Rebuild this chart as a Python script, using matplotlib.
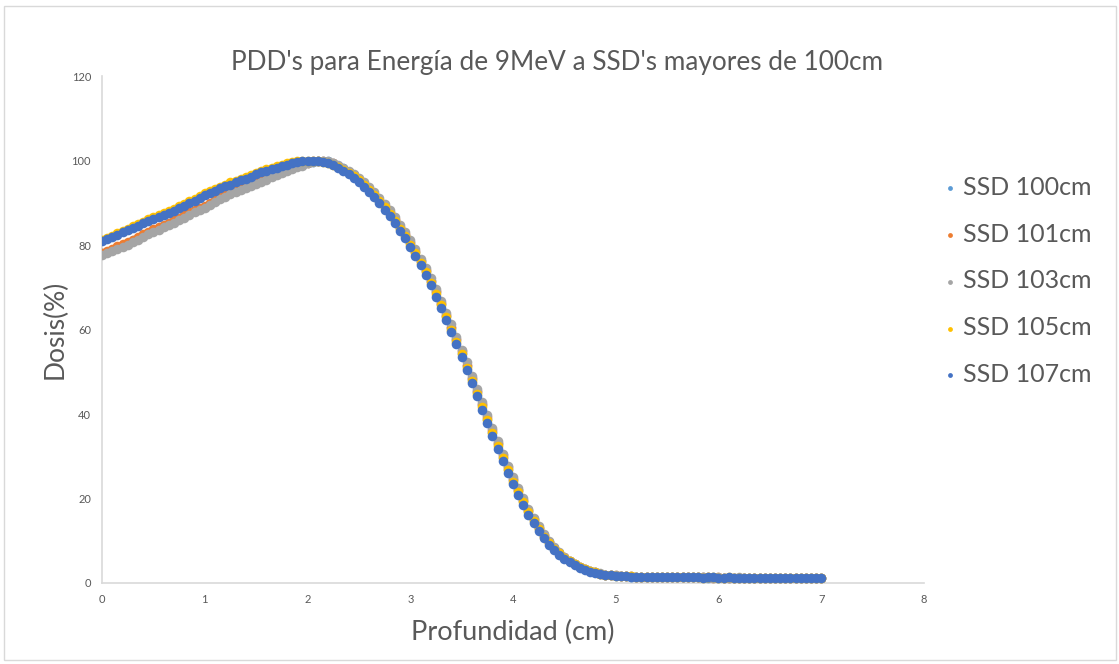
import numpy as np
import matplotlib
matplotlib.use("Agg")
import matplotlib.pyplot as plt
from matplotlib.patches import Rectangle

plt.rcParams['font.family'] = ['Lato', 'DejaVu Sans']

# Depth of each measurement (cm), 0.5 mm scan step
depth = np.round(np.arange(0, 7.0001, 0.05), 2)

ssd100 = [
    78.0, 78.4, 78.9, 79.5, 80.0, 80.5, 81.1, 81.7, 82.3, 82.9,
    83.5, 84.0, 84.6, 85.1, 85.7, 86.3, 86.9, 87.5, 88.1, 88.6,
    89.1, 89.8, 90.5, 91.2, 91.8, 92.4, 92.9, 93.5, 94.0, 94.4,
    94.9, 95.4, 95.9, 96.4, 96.8, 97.3, 97.8, 98.2, 98.6, 98.9,
    99.4, 99.7, 99.9, 100.0, 99.8, 99.4, 98.8, 98.2, 97.4, 96.6,
    95.4, 94.3, 93.1, 91.9, 90.5, 89.1, 87.5, 85.9, 84.1, 82.3,
    80.4, 78.3, 76.1, 73.8, 71.4, 68.8, 66.1, 63.3, 60.4, 57.5,
    54.5, 51.4, 48.3, 45.2, 42.1, 38.9, 35.8, 32.8, 29.9, 27.1,
    24.4, 21.9, 19.5, 17.1, 14.9, 13.0, 11.2, 9.7, 8.3, 7.1,
    6.0, 5.2, 4.4, 3.8, 3.3, 2.8, 2.5, 2.2, 2.0, 1.8,
    1.7, 1.7, 1.6, 1.5, 1.5, 1.5, 1.4, 1.4, 1.4, 1.4,
    1.4, 1.3, 1.3, 1.3, 1.3, 1.3, 1.3, 1.3, 1.2, 1.3,
    1.2, 1.2, 1.2, 1.2, 1.2, 1.2, 1.2, 1.1, 1.2, 1.2,
    1.1, 1.2, 1.1, 1.1, 1.1, 1.2, 1.1, 1.1, 1.1, 1.1,
    1.1,
]

ssd101 = [
    78.2, 78.6, 79.1, 79.7, 80.2, 80.7, 81.3, 81.9, 82.5, 83.1,
    83.7, 84.2, 84.8, 85.3, 85.9, 86.5, 87.1, 87.7, 88.3, 88.8,
    89.3, 90.0, 90.7, 91.4, 92.0, 92.5, 93.0, 93.6, 94.1, 94.5,
    95.0, 95.5, 96.0, 96.5, 96.9, 97.4, 97.9, 98.3, 98.7, 99.0,
    99.5, 99.8, 100.0, 99.9, 99.7, 99.3, 98.7, 98.1, 97.3, 96.5,
    95.5, 94.5, 93.3, 92.1, 90.7, 89.3, 87.7, 86.1, 84.3, 82.5,
    80.6, 78.5, 76.3, 74.0, 71.6, 69.0, 66.3, 63.5, 60.7, 57.8,
    54.8, 51.7, 48.6, 45.5, 42.4, 39.2, 36.1, 33.1, 30.2, 27.4,
    24.6, 22.1, 19.7, 17.3, 15.1, 13.1, 11.3, 9.8, 8.4, 7.2,
    6.1, 5.2, 4.5, 3.8, 3.3, 2.9, 2.5, 2.2, 2.0, 1.9,
    1.8, 1.7, 1.6, 1.6, 1.5, 1.5, 1.5, 1.4, 1.4, 1.4,
    1.4, 1.4, 1.3, 1.3, 1.3, 1.3, 1.3, 1.3, 1.3, 1.2,
    1.3, 1.2, 1.2, 1.2, 1.2, 1.2, 1.2, 1.2, 1.1, 1.2,
    1.2, 1.1, 1.2, 1.1, 1.1, 1.1, 1.1, 1.2, 1.1, 1.1,
    1.1,
]

ssd103 = [
    77.6, 78.0, 78.5, 79.1, 79.6, 80.1, 80.7, 81.3, 81.9, 82.5,
    83.1, 83.6, 84.2, 84.7, 85.3, 85.9, 86.5, 87.1, 87.7, 88.2,
    88.7, 89.4, 90.1, 90.8, 91.4, 92.0, 92.5, 93.1, 93.6, 94.0,
    94.5, 95.0, 95.5, 96.0, 96.5, 97.0, 97.5, 98.0, 98.4, 98.8,
    99.3, 99.6, 99.9, 100.0, 99.8, 99.5, 98.9, 98.3, 97.6, 96.8,
    95.8, 94.8, 93.7, 92.5, 91.2, 89.8, 88.2, 86.6, 84.8, 83.0,
    81.1, 79.0, 76.8, 74.5, 72.1, 69.5, 66.8, 64.0, 61.2, 58.2,
    55.2, 52.2, 49.1, 46.0, 42.9, 39.7, 36.6, 33.6, 30.6, 27.8,
    25.0, 22.5, 20.0, 17.6, 15.4, 13.4, 11.6, 10.0, 8.6, 7.3,
    6.2, 5.3, 4.6, 3.9, 3.4, 2.9, 2.6, 2.3, 2.0, 1.9,
    1.8, 1.7, 1.6, 1.6, 1.5, 1.5, 1.5, 1.4, 1.4, 1.4,
    1.4, 1.4, 1.3, 1.4, 1.3, 1.3, 1.3, 1.3, 1.3, 1.2,
    1.3, 1.2, 1.2, 1.2, 1.3, 1.2, 1.2, 1.2, 1.2, 1.1,
    1.2, 1.2, 1.1, 1.2, 1.1, 1.1, 1.1, 1.2, 1.1, 1.1,
    1.1,
]

ssd105 = [
    81.2, 81.7, 82.2, 82.8, 83.3, 83.9, 84.4, 85.0, 85.5, 86.1,
    86.6, 87.1, 87.6, 88.1, 88.6, 89.2, 89.8, 90.4, 91.0, 91.6,
    92.2, 92.8, 93.3, 93.8, 94.3, 94.8, 95.2, 95.7, 96.2, 96.6,
    97.1, 97.5, 97.9, 98.3, 98.7, 99.0, 99.3, 99.6, 99.8, 99.9,
    100.0, 100.0, 99.9, 99.7, 99.4, 99.0, 98.5, 97.8, 97.1, 96.3,
    95.4, 94.3, 93.1, 91.8, 90.4, 88.9, 87.3, 85.7, 83.9, 82.1,
    80.1, 78.0, 75.8, 73.5, 71.1, 68.4, 65.7, 62.9, 60.0, 57.1,
    54.1, 51.0, 47.9, 44.8, 41.6, 38.5, 35.4, 32.4, 29.5, 26.7,
    24.0, 21.5, 19.1, 16.8, 14.7, 12.8, 11.0, 9.5, 8.1, 7.0,
    5.9, 5.1, 4.4, 3.7, 3.2, 2.8, 2.5, 2.2, 2.0, 1.8,
    1.7, 1.7, 1.6, 1.6, 1.5, 1.5, 1.4, 1.4, 1.4, 1.4,
    1.4, 1.3, 1.3, 1.3, 1.3, 1.3, 1.3, 1.2, 1.3, 1.3,
    1.2, 1.2, 1.3, 1.2, 1.2, 1.2, 1.2, 1.2, 1.1, 1.2,
    1.2, 1.1, 1.2, 1.1, 1.1, 1.1, 1.2, 1.1, 1.1, 1.1,
    1.1,
]

ssd107 = [
    80.9, 81.4, 81.9, 82.4, 83.0, 83.5, 84.0, 84.6, 85.1, 85.7,
    86.2, 86.7, 87.2, 87.6, 88.1, 88.7, 89.3, 89.9, 90.5, 91.2,
    91.8, 92.4, 92.9, 93.4, 93.9, 94.3, 94.8, 95.3, 95.7, 96.2,
    96.7, 97.2, 97.5, 97.9, 98.3, 98.6, 99.0, 99.3, 99.6, 99.8,
    99.9, 100.0, 99.9, 99.7, 99.4, 98.9, 98.3, 97.6, 96.8, 95.9,
    94.9, 93.8, 92.6, 91.3, 89.9, 88.4, 86.8, 85.2, 83.4, 81.6,
    79.6, 77.5, 75.2, 72.9, 70.5, 67.8, 65.0, 62.3, 59.4, 56.5,
    53.4, 50.4, 47.3, 44.2, 41.0, 37.9, 34.8, 31.8, 28.9, 26.0,
    23.4, 20.9, 18.5, 16.2, 14.2, 12.3, 10.6, 9.1, 7.8, 6.7,
    5.7, 4.9, 4.2, 3.6, 3.1, 2.7, 2.4, 2.1, 1.9, 1.8,
    1.7, 1.6, 1.6, 1.5, 1.5, 1.5, 1.4, 1.4, 1.4, 1.4,
    1.4, 1.3, 1.4, 1.3, 1.3, 1.3, 1.3, 1.2, 1.3, 1.3,
    1.2, 1.2, 1.3, 1.2, 1.2, 1.2, 1.2, 1.2, 1.1, 1.2,
    1.2, 1.1, 1.2, 1.1, 1.1, 1.1, 1.2, 1.1, 1.1, 1.1,
    1.1,
]

series_labels = ["SSD 100cm", "SSD 101cm", "SSD 103cm", "SSD 105cm", "SSD 107cm"]
series_values = [ssd100, ssd101, ssd103, ssd105, ssd107]
series_colors = ["#5B9BD5", "#ED7D31", "#A5A5A5", "#FFC000", "#4472C4"]

x_ticks = [0, 1, 2, 3, 4, 5, 6, 7, 8]
y_ticks = [0, 20, 40, 60, 80, 100, 120]

text_gray = "#595959"
axis_gray = "#D9D9D9"

fig = plt.figure(figsize=(11.19, 6.64), dpi=100)
ax = fig.add_axes([0.0912, 0.122, 0.7345, 0.7635])

for label, vals, color in zip(series_labels, series_values, series_colors):
    ax.scatter(depth, vals, s=48, color=color, label=label, linewidths=0, zorder=3)

ax.set_xlim(0, 8)
ax.set_ylim(0, 120)
ax.set_xticks(x_ticks)
ax.set_yticks(y_ticks)
ax.tick_params(axis='both', length=0, labelsize=8, labelcolor=text_gray, pad=8)

for side in ("top", "right"):
    ax.spines[side].set_visible(False)
for side in ("left", "bottom"):
    ax.spines[side].set_color(axis_gray)
    ax.spines[side].set_linewidth(1.2)

ax.set_xlabel("Profundidad (cm)", fontsize=19.5, color=text_gray, labelpad=11)
ax.set_ylabel("Dosis(%)", fontsize=19, color=text_gray, labelpad=3)

fig.text(0.498, 0.906, "PDD's para Energía de 9MeV a SSD's mayores de 100cm",
         ha="center", va="center", fontsize=18.8, color=text_gray)

leg = ax.legend(loc="center left", bbox_to_anchor=(932.6 / 1119, 0.577),
                bbox_transform=fig.transFigure, frameon=False,
                fontsize=18, markerscale=0.5, handlelength=0.6,
                handletextpad=0.2, labelspacing=0.95,
                labelcolor=text_gray, borderaxespad=0)

# chart frame
fig.patches.append(Rectangle((4 / 1119, 4 / 664), 1112 / 1119, 654 / 664,
                             transform=fig.transFigure, fill=False,
                             edgecolor=axis_gray, linewidth=1.0))

fig.savefig("out.png", dpi=100, facecolor="white")
